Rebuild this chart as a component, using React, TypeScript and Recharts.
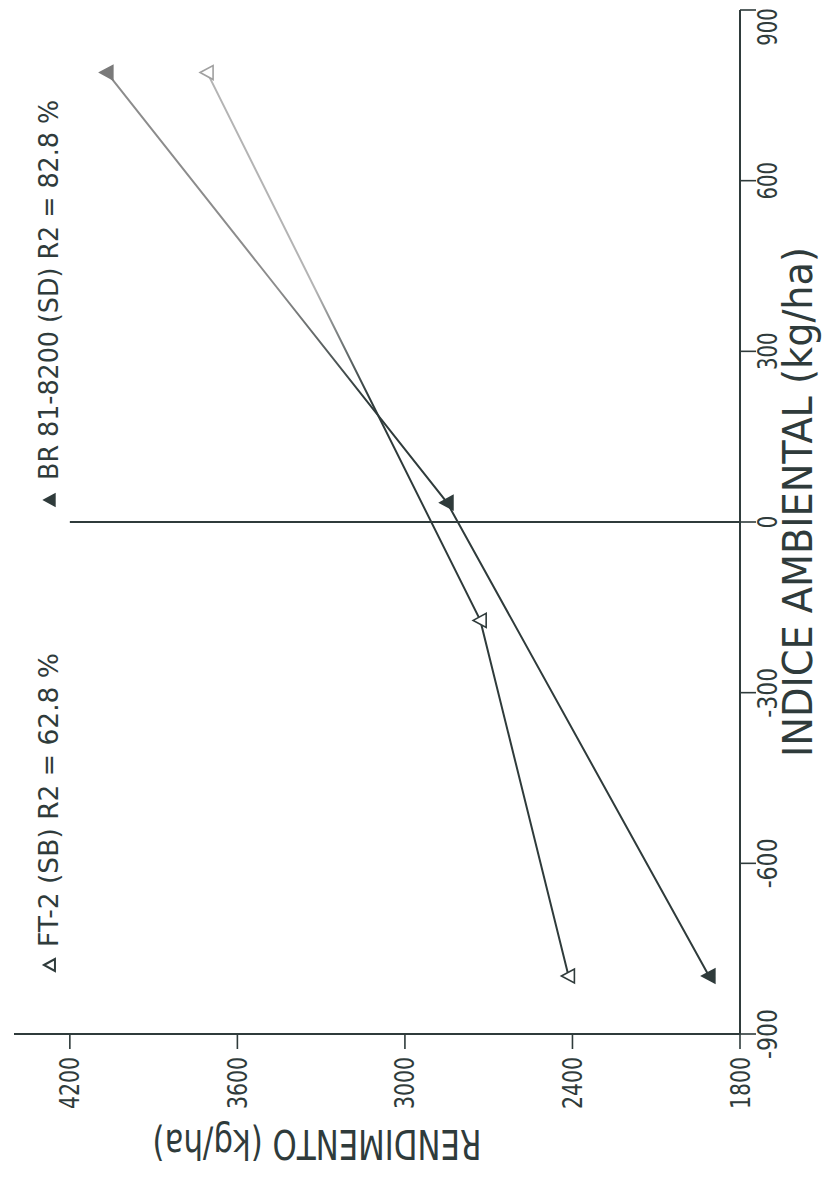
import { LineChart, Line, XAxis, YAxis, ReferenceLine, Legend } from 'recharts';

// scanned plot is turned a quarter-turn; chart is drawn upright then rotated -90deg
const FT2_INDEX = [-798, -173, 790];
const FT2_YIELD = [2414, 2730, 3708];
const BR_INDEX = [-798, 34, 790];
const BR_YIELD = [1911, 2849, 4067];
const X_TICKS = [-900, -600, -300, 0, 300, 600, 900];
const Y_TICKS = [1800, 2400, 3000, 3600, 4200];
const FT2_LABEL = 'FT-2 (SB) R2 = 62.8 %';
const BR_LABEL = 'BR 81-8200 (SD) R2 = 82.8 %';
const X_TITLE = 'INDICE AMBIENTAL (kg/ha)';
const Y_TITLE = 'RENDIMENTO (kg/ha)';

const ft2Data = FT2_INDEX.map((x, i) => ({ x, y: FT2_YIELD[i] }));
const brData = BR_INDEX.map((x, i) => ({ x, y: BR_YIELD[i] }));

const W = 1179;
const H = 822;
const INK = '#2f3b3b';
const FONT = '"DejaVu Sans Condensed", "DejaVu Sans", sans-serif';

function tri(cx: number, cy: number, w: number, h: number) {
  return `M${cx},${cy - h * 0.55} L${cx + w / 2},${cy + h * 0.45} L${cx - w / 2},${cy + h * 0.45} Z`;
}

function XTick({ x, y, payload }: any) {
  const s = String(payload.value);
  const len = s.length * 12.5;
  // keep the last label inside the page edge
  const cx = Math.min(x, W - 27);
  return (
    <text x={cx} y={y + 19} textAnchor="middle" fontSize={26} fill={INK} fontFamily={FONT}
      textLength={len} lengthAdjust="spacingAndGlyphs">{s}</text>
  );
}

function YTick({ x, y, payload }: any) {
  const s = String(payload.value);
  return (
    <text x={x} y={y + 9.5} textAnchor="end" fontSize={26} fill={INK} fontFamily={FONT}
      textLength={s.length * 13} lengthAdjust="spacingAndGlyphs">{s}</text>
  );
}

function makeDot(hollow: boolean, light: string) {
  return (props: any) => {
    const { cx, cy, index } = props;
    const c = index === 2 ? light : INK;
    return (
      <path key={index} d={tri(cx, cy, 14, 13)} fill={hollow ? '#fff' : c} stroke={c} strokeWidth={1.6} />
    );
  };
}

function LegendBox() {
  return (
    <svg width={W} height={80} style={{ display: 'block' }}>
      <path d={tri(214, 50, 12, 11)} fill="#fff" stroke={INK} strokeWidth={2} />
      <text x={232} y={58} fontSize={26} fill={INK} fontFamily={FONT}
        textLength={294} lengthAdjust="spacingAndGlyphs">{FT2_LABEL}</text>
      <path d={tri(679, 50, 12, 11)} fill={INK} stroke={INK} strokeWidth={1.5} />
      <text x={699} y={58} fontSize={26} fill={INK} fontFamily={FONT}
        textLength={380} lengthAdjust="spacingAndGlyphs">{BR_LABEL}</text>
    </svg>
  );
}

export default function App() {
  return (
    <div style={{ position: 'absolute', left: 0, top: 0, width: 822, height: 1179, overflow: 'hidden', background: '#fff' }}>
      <div
        style={{
          position: 'absolute', left: 0, top: 0, width: W, height: H,
          transformOrigin: '0 0', transform: `translate(0px, ${W}px) rotate(-90deg)`,
        }}
      >
        <LineChart width={W} height={H} margin={{ top: 14, right: 10, bottom: 0, left: 0 }}>
          <defs>
            <linearGradient id="fadeBr" x1="0" y1="0" x2="1" y2="0">
              <stop offset="0" stopColor={INK} />
              <stop offset="0.64" stopColor={INK} />
              <stop offset="0.76" stopColor="#8c8c8c" />
              <stop offset="1" stopColor="#8c8c8c" />
            </linearGradient>
            <linearGradient id="fadeFt" x1="0" y1="0" x2="1" y2="0">
              <stop offset="0" stopColor={INK} />
              <stop offset="0.64" stopColor={INK} />
              <stop offset="0.76" stopColor="#b4b4b4" />
              <stop offset="1" stopColor="#b4b4b4" />
            </linearGradient>
          </defs>
          <XAxis
            dataKey="x" type="number" domain={[-900, 900]} ticks={X_TICKS} height={82}
            axisLine={{ stroke: INK, strokeWidth: 2 }} tickLine={{ stroke: INK, strokeWidth: 1.6 }}
            tickSize={16} tickMargin={2} tick={<XTick />} interval={0}
            label={{
              content: ({ viewBox }: any) => (
                <text x={viewBox.x + viewBox.width / 2 + 20} y={viewBox.y + 72} textAnchor="middle"
                  fontSize={40} fill={INK} fontFamily={FONT} textLength={510} lengthAdjust="spacingAndGlyphs">
                  {X_TITLE}
                </text>
              ),
            }}
          />
          <XAxis xAxisId="top" orientation="top" type="number" domain={[-900, 900]} height={0}
            tick={false} tickLine={false} axisLine={{ stroke: INK, strokeWidth: 2 }} />
          <YAxis
            type="number" domain={[1800, 4400]} ticks={Y_TICKS} width={145}
            axisLine={{ stroke: INK, strokeWidth: 2 }} tickLine={{ stroke: INK, strokeWidth: 1.6 }}
            tickSize={15} tickMargin={8} tick={<YTick />} interval={0}
            label={{
              content: ({ viewBox }: any) => {
                const cx = viewBox.x + 49;
                const cy = viewBox.y + viewBox.height / 2 - 60;
                return (
                  <text transform={`translate(${cx},${cy}) rotate(-90)`} textAnchor="middle"
                    fontSize={40} fill={INK} fontFamily={FONT} textLength={329} lengthAdjust="spacingAndGlyphs">
                    {Y_TITLE}
                  </text>
                );
              },
            }}
          />
          <YAxis yAxisId="right" orientation="right" type="number" domain={[1800, 4400]} width={0}
            tick={false} tickLine={false} axisLine={{ stroke: INK, strokeWidth: 2 }} />
          <ReferenceLine segment={[{ x: 0, y: 1800 }, { x: 0, y: 4200 }]} stroke={INK} strokeWidth={2} />
          <Line data={ft2Data} dataKey="y" type="linear" stroke="url(#fadeFt)" strokeWidth={2}
            dot={makeDot(true, '#a0a0a0')} activeDot={false} isAnimationActive={false} />
          <Line data={brData} dataKey="y" type="linear" stroke="url(#fadeBr)" strokeWidth={2}
            dot={makeDot(false, '#7a7a7a')} activeDot={false} isAnimationActive={false} />
          <Legend verticalAlign="middle" align="center" layout="horizontal"
            wrapperStyle={{ top: 0, left: 0, width: W, height: 80 }} content={() => <LegendBox />} />
        </LineChart>
      </div>
    </div>
  );
}
